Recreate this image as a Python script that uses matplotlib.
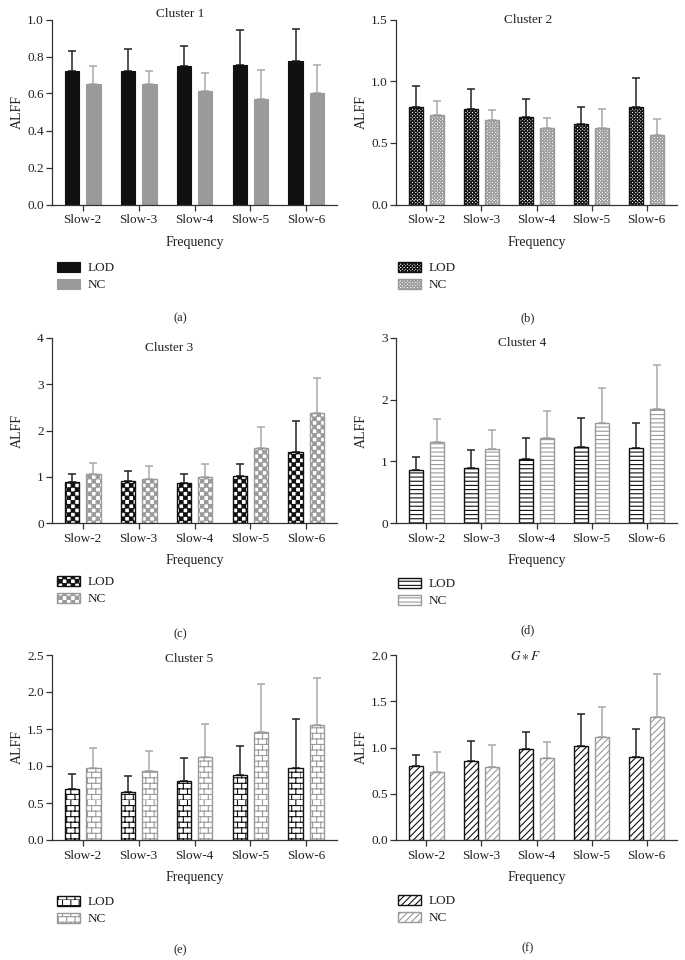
import warnings
import numpy as np
import matplotlib
matplotlib.use("Agg")
import matplotlib.pyplot as plt
from matplotlib import hatch as mhatch
from matplotlib.path import Path

warnings.filterwarnings("ignore")

# ---- data (mean ALFF and upper SD) ----
freqs = ["Slow-2", "Slow-3", "Slow-4", "Slow-5", "Slow-6"]
groups = ["LOD", "NC"]
titles = ["Cluster 1", "Cluster 2", "Cluster 3", "Cluster 4", "Cluster 5", r"$G\ast F$"]
captions = ["(a)", "(b)", "(c)", "(d)", "(e)", "(f)"]

c1_lod = [0.719, 0.719, 0.748, 0.755, 0.773]
c1_lod_sd = [0.112, 0.121, 0.111, 0.189, 0.177]
c1_nc = [0.649, 0.649, 0.616, 0.571, 0.604]
c1_nc_sd = [0.101, 0.072, 0.096, 0.155, 0.151]

c2_lod = [0.793, 0.774, 0.707, 0.649, 0.788]
c2_lod_sd = [0.166, 0.166, 0.146, 0.139, 0.239]
c2_nc = [0.728, 0.682, 0.620, 0.620, 0.565]
c2_nc_sd = [0.109, 0.082, 0.078, 0.154, 0.125]

c3_lod = [0.888, 0.910, 0.859, 1.025, 1.530]
c3_lod_sd = [0.172, 0.210, 0.195, 0.260, 0.665]
c3_nc = [1.054, 0.960, 1.004, 1.617, 2.368]
c3_nc_sd = [0.253, 0.267, 0.281, 0.463, 0.758]

c4_lod = [0.857, 0.890, 1.042, 1.232, 1.210]
c4_lod_sd = [0.206, 0.293, 0.336, 0.466, 0.412]
c4_nc = [1.308, 1.199, 1.384, 1.617, 1.845]
c4_nc_sd = [0.374, 0.304, 0.434, 0.580, 0.721]

c5_lod = [0.689, 0.644, 0.793, 0.878, 0.973]
c5_lod_sd = [0.207, 0.216, 0.315, 0.388, 0.658]
c5_nc = [0.973, 0.937, 1.126, 1.459, 1.554]
c5_nc_sd = [0.270, 0.270, 0.442, 0.645, 0.635]

gf_lod = [0.803, 0.854, 0.984, 1.016, 0.897]
gf_lod_sd = [0.119, 0.216, 0.184, 0.347, 0.303]
gf_nc = [0.734, 0.792, 0.890, 1.114, 1.335]
gf_nc_sd = [0.217, 0.235, 0.170, 0.325, 0.455]

y_max = [1.0, 1.5, 4, 3, 2.5, 2.0]
y_step = [0.2, 0.5, 1, 1, 0.5, 0.5]
y_fmt = ["{:.1f}", "{:.1f}", "{:.0f}", "{:.0f}", "{:.1f}", "{:.1f}"]


# ---- custom hatches: 'c' checkerboard, 'b' brick ----
class CheckerHatch(mhatch.HatchPatternBase):
    inset = 0.003

    def __init__(self, hatch, density):
        n = hatch.count('c') * density
        self.n = n + n % 2
        self.num_vertices = (self.n * self.n // 2) * 5

    def set_vertices_and_codes(self, vertices, codes):
        s = 1.0 / self.n
        d = self.inset
        sq = np.array([[d, d], [s - d, d], [s - d, s - d], [d, s - d], [d, d]])
        parts = [sq + [i * s, j * s] for i in range(self.n)
                 for j in range(self.n) if (i + j) % 2 == 0]
        vertices[:] = np.concatenate(parts)
        codes[:] = np.tile([Path.MOVETO, Path.LINETO, Path.LINETO,
                            Path.LINETO, Path.CLOSEPOLY], len(parts))


class BrickHatch(mhatch.HatchPatternBase):
    def __init__(self, hatch, density):
        n = hatch.count('b') * density
        self.n = n + n % 2
        self.per_row = (self.n * 2) // 3
        self.num_vertices = 2 * self.n + 2 * self.n * self.per_row

    def set_vertices_and_codes(self, vertices, codes):
        n, m = self.n, self.per_row
        h, w = 1.0 / n, 1.0 / m
        pts = []
        for k in range(n):
            pts += [[0, k * h], [1, k * h]]
            for j in range(m):
                x = (j + 0.5 * (k % 2)) * w
                pts += [[x, k * h], [x, (k + 1) * h]]
        vertices[:] = np.array(pts)
        codes[:] = np.tile([Path.MOVETO, Path.LINETO], len(pts) // 2)


mhatch._hatch_types.append(CheckerHatch)
mhatch._hatch_types.append(BrickHatch)

plt.rcParams['font.family'] = 'serif'
plt.rcParams['font.serif'] = ['Liberation Serif', 'DejaVu Serif']
plt.rcParams['mathtext.fontset'] = 'stix'
plt.rcParams['hatch.linewidth'] = 0.8
text_col = '#231f20'
plt.rcParams['text.color'] = text_col
plt.rcParams['axes.labelcolor'] = text_col
plt.rcParams['xtick.color'] = '#333333'
plt.rcParams['ytick.color'] = '#333333'
plt.rcParams['xtick.labelcolor'] = text_col
plt.rcParams['ytick.labelcolor'] = text_col

panels = [
    (c1_lod, c1_lod_sd, c1_nc, c1_nc_sd),
    (c2_lod, c2_lod_sd, c2_nc, c2_nc_sd),
    (c3_lod, c3_lod_sd, c3_nc, c3_nc_sd),
    (c4_lod, c4_lod_sd, c4_nc, c4_nc_sd),
    (c5_lod, c5_lod_sd, c5_nc, c5_nc_sd),
    (gf_lod, gf_lod_sd, gf_nc, gf_nc_sd),
]
hatches = [None, 'c' * 10, 'cccc', '----', 'bbb', '/////']
lod_col = '#111111'
nc_col = '#9a9a9a'

W, H = 685, 960
fig = plt.figure(figsize=(W / 100, H / 100), dpi=100)

col_left = [52, 396]
col_width = [285, 281]
row_bottom = [204.5, 523, 840]
ax_h = 185
title_pos = [(0.45, 1.03), (0.47, 0.995), (0.41, 0.946),
             (0.45, 0.975), (0.48, 0.98), (0.46, 0.993)]
legend_top = [262, 262, 576, 578, 896, 895]
legend_x = [57, 398]
caption_y = [318, 318, 634, 630, 950, 948]
caption_x = [180, 528]

x = np.arange(len(freqs))
bw = 0.26
off = 0.19

for i, (lod, lod_sd, nc, nc_sd) in enumerate(panels):
    r, c = divmod(i, 2)
    ax = fig.add_axes([col_left[c] / W, 1 - row_bottom[r] / H,
                       col_width[c] / W, ax_h / H])
    h = hatches[i]
    if h is None:
        ax.bar(x - off, lod, bw, color=lod_col, edgecolor=lod_col,
               linewidth=0.8, label=groups[0], zorder=2)
        ax.bar(x + off, nc, bw, color=nc_col, edgecolor=nc_col,
               linewidth=0.8, label=groups[1], zorder=2)
    else:
        ax.bar(x - off, lod, bw, color='white', edgecolor=lod_col,
               hatch=h, linewidth=1.0, label=groups[0], zorder=2)
        ax.bar(x + off, nc, bw, color='white', edgecolor=nc_col,
               hatch=h, linewidth=1.0, label=groups[1], zorder=2)
    zeros = np.zeros(len(freqs))
    ax.errorbar(x - off, lod, yerr=[zeros, lod_sd], fmt='none', ecolor='#222222',
                elinewidth=1.1, capsize=3, capthick=1.1, zorder=1)
    ax.errorbar(x + off, nc, yerr=[zeros, nc_sd], fmt='none', ecolor='#aaaaaa',
                elinewidth=1.1, capsize=3, capthick=1.1, zorder=1)

    ax.set_xlim(-0.55, 4.55)
    ax.set_ylim(0, y_max[i])
    ticks = np.arange(0, y_max[i] + 1e-9, y_step[i])
    ax.set_yticks(ticks)
    ax.set_yticklabels([y_fmt[i].format(t) for t in ticks])
    ax.set_xticks(x)
    ax.set_xticklabels(freqs)
    ax.tick_params(axis='both', labelsize=9.5, length=4, width=0.9, direction='out')
    ax.tick_params(axis='y', pad=2)
    ax.tick_params(axis='x', pad=3)
    for s in ['top', 'right']:
        ax.spines[s].set_visible(False)
    for s in ['left', 'bottom']:
        ax.spines[s].set_color('#333333')
        ax.spines[s].set_linewidth(0.9)

    ax.text(title_pos[i][0], title_pos[i][1], titles[i], transform=ax.transAxes,
            ha='center', va='center', fontsize=9.5)
    ax.set_ylabel('ALFF', fontsize=10)
    ax.yaxis.set_label_coords(-0.1, 0.5)
    ax.set_xlabel('Frequency', fontsize=10)
    ax.xaxis.set_label_coords(0.5, -0.17)

    ax.legend(loc='upper left',
              bbox_to_anchor=(legend_x[c] / W, 1 - legend_top[i] / H),
              bbox_transform=fig.transFigure, frameon=False, borderpad=0,
              borderaxespad=0, handlelength=1.75, handleheight=0.75,
              handletextpad=0.55, labelspacing=0.35, fontsize=9.5)

    fig.text(caption_x[c] / W, 1 - caption_y[i] / H, captions[i],
             ha='center', va='center', fontsize=9)

fig.savefig('out.png', dpi=100, facecolor='white')
